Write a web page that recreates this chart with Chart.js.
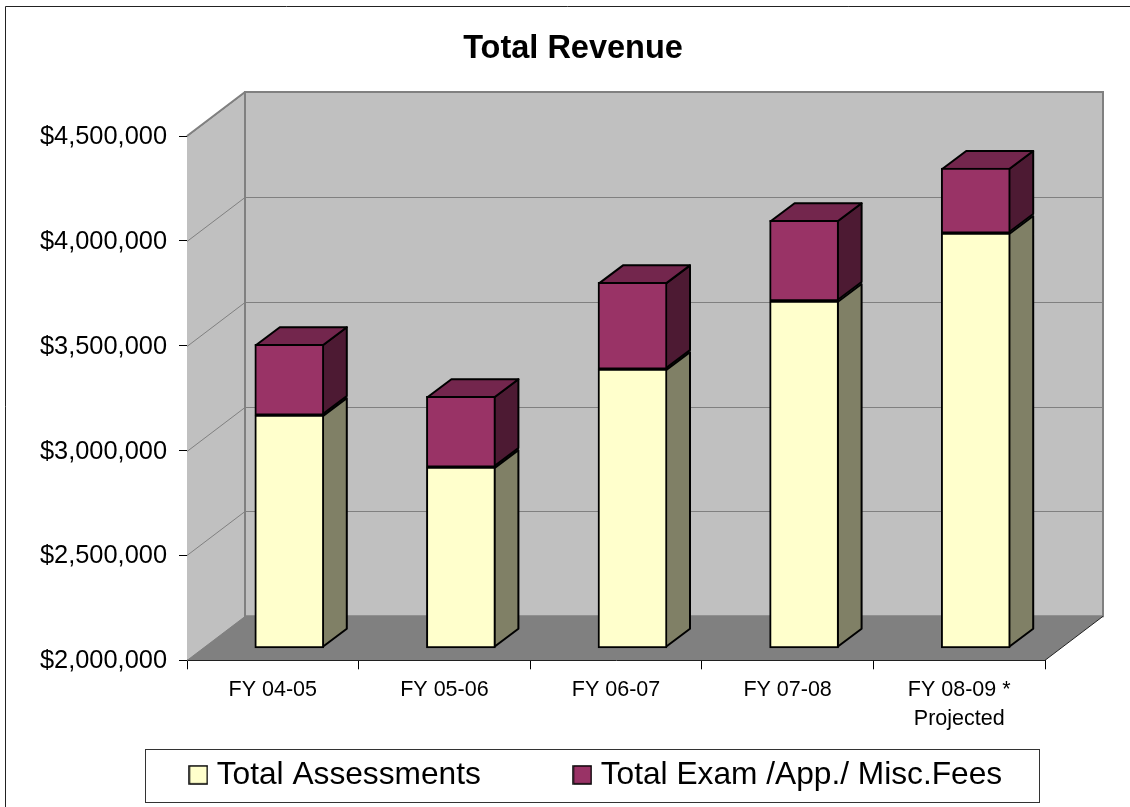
<!DOCTYPE html>
<html>
<head>
<meta charset="utf-8">
<title>Total Revenue</title>
<script src="https://cdn.jsdelivr.net/npm/chart.js@4/dist/chart.umd.js"></script>
<style>
    html, body { margin: 0; padding: 0; background: #fff; }
    canvas { display: block; }
</style>
</head>
<body>
<canvas id="revenueChart" width="1130" height="807"></canvas>
<script>
const categories = ['FY 04-05', 'FY 05-06', 'FY 06-07', 'FY 07-08', ['FY 08-09 *', 'Projected']];
const totalAssessments = [3112000, 2864000, 3331000, 3656000, 3980000];
const totalExamFees = [338000, 338000, 414000, 385000, 310000];
const yTickValues = [2000000, 2500000, 3000000, 3500000, 4000000, 4500000];

const FONT = '"Liberation Sans", Arial, sans-serif';
const ASSESS_COLOR = '#FFFFCC';
const FEES_COLOR = '#993366';

// depth of the box (wall offset) and of the bars inside it
const BOX_DX = 58, BOX_DY = 44;
const BAR_DX = 16.5, BAR_DY = 12;
const SIDE_DX = 24, SIDE_DY = 18;

// legend swatch, a canvas so it can sit wider than the legend's box slot
function makeSwatch(color) {
    const c = document.createElement('canvas');
    c.width = 20;
    c.height = 20;
    const g = c.getContext('2d');
    g.fillStyle = color;
    g.fillRect(1, 1, 18, 18);
    g.strokeStyle = '#000';
    g.lineWidth = 1.5;
    g.strokeRect(1, 1, 18, 18);
    return c;
}
const swatches = [makeSwatch(ASSESS_COLOR), makeSwatch(FEES_COLOR)];

function poly(ctx, pts, fill, stroke, width) {
    ctx.beginPath();
    pts.forEach((p, i) => i ? ctx.lineTo(p[0], p[1]) : ctx.moveTo(p[0], p[1]));
    ctx.closePath();
    if (fill) { ctx.fillStyle = fill; ctx.fill(); }
    if (stroke) { ctx.strokeStyle = stroke; ctx.lineWidth = width; ctx.stroke(); }
}

const box3d = {
    id: 'box3d',
    afterLayout(chart) {
        // the legend needs a wide gap between items but only a thin row,
        // right has to stay far enough out or the second item wraps
        const legend = chart.legend;
        legend.left = 58;
        legend.right = 1140;
        legend.top = 660;
        // title is centred on the whole picture plus the right margin of the source
        chart.titleBlock.left = 0;
        chart.titleBlock.right = 1146;
    },
    beforeDraw(chart) {
        const ctx = chart.ctx;
        // frame, cut off at right and bottom in the source
        ctx.save();
        ctx.strokeStyle = '#222';
        ctx.lineWidth = 1;
        ctx.beginPath();
        ctx.moveTo(5.5, 807);
        ctx.lineTo(5.5, 6.5);
        ctx.lineTo(1130, 6.5);
        ctx.stroke();
        // legend box
        ctx.strokeStyle = '#333';
        ctx.strokeRect(145.5, 749.5, 894, 53);
        ctx.restore();
    },
    beforeDatasetsDraw(chart) {
        const ctx = chart.ctx;
        const {left, right, top, bottom} = chart.chartArea;
        const y = chart.scales.y;
        ctx.save();
        // left wall, back wall, floor
        poly(ctx, [[left, top], [left + BOX_DX, top - BOX_DY], [left + BOX_DX, bottom - BOX_DY], [left, bottom]], '#C0C0C0');
        poly(ctx, [[left + BOX_DX, top - BOX_DY], [right + BOX_DX, top - BOX_DY], [right + BOX_DX, bottom - BOX_DY], [left + BOX_DX, bottom - BOX_DY]], '#C0C0C0', '#808080', 2);
        // grid lines run along left wall and back wall
        ctx.strokeStyle = '#808080';
        ctx.lineWidth = 1;
        yTickValues.forEach((v) => {
            const py = Math.round(y.getPixelForValue(v)) + 0.5;
            ctx.beginPath();
            ctx.moveTo(left, py);
            ctx.lineTo(left + BOX_DX, py - BOX_DY);
            ctx.lineTo(right + BOX_DX, py - BOX_DY);
            ctx.stroke();
        });
        poly(ctx, [[left, bottom], [left + BOX_DX, bottom - BOX_DY], [right + BOX_DX, bottom - BOX_DY], [right, bottom]], '#808080');
        ctx.strokeStyle = '#808080';
        ctx.lineWidth = 2;
        ctx.beginPath();
        ctx.moveTo(left, top);
        ctx.lineTo(left + BOX_DX, top - BOX_DY);
        ctx.moveTo(left + BOX_DX, top - BOX_DY);
        ctx.lineTo(left + BOX_DX, bottom - BOX_DY);
        ctx.stroke();
        ctx.strokeStyle = '#222';
        ctx.lineWidth = 1;
        ctx.beginPath();
        ctx.moveTo(right, bottom);
        ctx.lineTo(right + BOX_DX, bottom - BOX_DY);
        ctx.stroke();

        // side and top faces of the bars
        ctx.translate(BAR_DX, -BAR_DY);
        ctx.lineJoin = 'round';
        chart.data.datasets.forEach((ds, i) => {
            chart.getDatasetMeta(i).data.forEach((bar) => {
                const r = bar.x + bar.width / 2 - 1;
                poly(ctx, [[r, bar.y + 1], [r + SIDE_DX, bar.y + 1 - SIDE_DY], [r + SIDE_DX, bar.base - 1 - SIDE_DY], [r, bar.base - 1]], ds.sideColor, '#000', 2);
                if (i === chart.data.datasets.length - 1) {
                    const l = bar.x - bar.width / 2 + 1;
                    poly(ctx, [[l, bar.y + 1], [l + SIDE_DX, bar.y + 1 - SIDE_DY], [r + SIDE_DX, bar.y + 1 - SIDE_DY], [r, bar.y + 1]], ds.topColor, '#000', 2);
                }
            });
        });
        ctx.restore();
        // the bars themselves sit inside the box, not on the front plane
        ctx.save();
        ctx.translate(BAR_DX, -BAR_DY);
    },
    afterDatasetsDraw(chart) {
        chart.ctx.restore();
    }
};

new Chart(document.getElementById('revenueChart').getContext('2d'), {
    type: 'bar',
    plugins: [box3d],
    data: {
        labels: categories,
        datasets: [
            {
                label: 'Total Assessments',
                data: totalAssessments,
                base: yTickValues[0],
                backgroundColor: ASSESS_COLOR,
                sideColor: '#808066',
                clip: false
            },
            {
                label: 'Total Exam /App./ Misc.Fees',
                data: totalExamFees,
                backgroundColor: FEES_COLOR,
                sideColor: '#4D1A33',
                topColor: '#73264D',
                clip: false
            }
        ]
    },
    options: {
        responsive: false,
        animation: false,
        events: [],
        font: { family: FONT },
        layout: { padding: { left: 0, right: 85, top: 0, bottom: -141 } },
        datasets: { bar: { barThickness: 69, borderColor: '#000', borderWidth: 2, borderSkipped: false } },
        plugins: {
            tooltip: { enabled: false },
            title: {
                display: true,
                text: 'Total Revenue',
                color: '#000',
                font: { family: FONT, size: 32.5, weight: 'bold', lineHeight: 1.2 },
                padding: { top: 30, bottom: 67 }
            },
            legend: {
                display: true,
                position: 'bottom',
                labels: {
                    color: '#000',
                    font: { family: FONT, size: 31.7 },
                    usePointStyle: true,
                    boxWidth: 5,
                    boxHeight: 5,
                    padding: 99,
                    generateLabels(chart) {
                        const items = Chart.defaults.plugins.legend.labels.generateLabels(chart);
                        items.forEach((item, i) => { item.pointStyle = swatches[i]; });
                        return items;
                    }
                }
            }
        },
        scales: {
            x: {
                stacked: true,
                afterFit(scale) { scale.height = 147; },
                border: { color: '#000', width: 1 },
                grid: { drawOnChartArea: false, color: '#000', tickLength: 9 },
                ticks: {
                    color: '#000',
                    maxRotation: 0,
                    autoSkip: false,
                    padding: 6,
                    font: { family: FONT, size: 21.5, lineHeight: 1.35 }
                }
            },
            y: {
                stacked: true,
                min: 2000000,
                max: 4500000,
                afterFit(scale) { scale.width = 187; },
                afterBuildTicks(scale) { scale.ticks = yTickValues.map((v) => ({ value: v })); },
                border: { color: '#000', width: 1 },
                grid: { drawOnChartArea: false, color: '#000', tickLength: 8 },
                ticks: {
                    color: '#000',
                    padding: 12,
                    labelOffset: 1,
                    font: { family: FONT, size: 25.4 },
                    callback: (v) => '$' + Number(v).toLocaleString('en-US')
                }
            }
        }
    }
});
</script>
</body>
</html>
